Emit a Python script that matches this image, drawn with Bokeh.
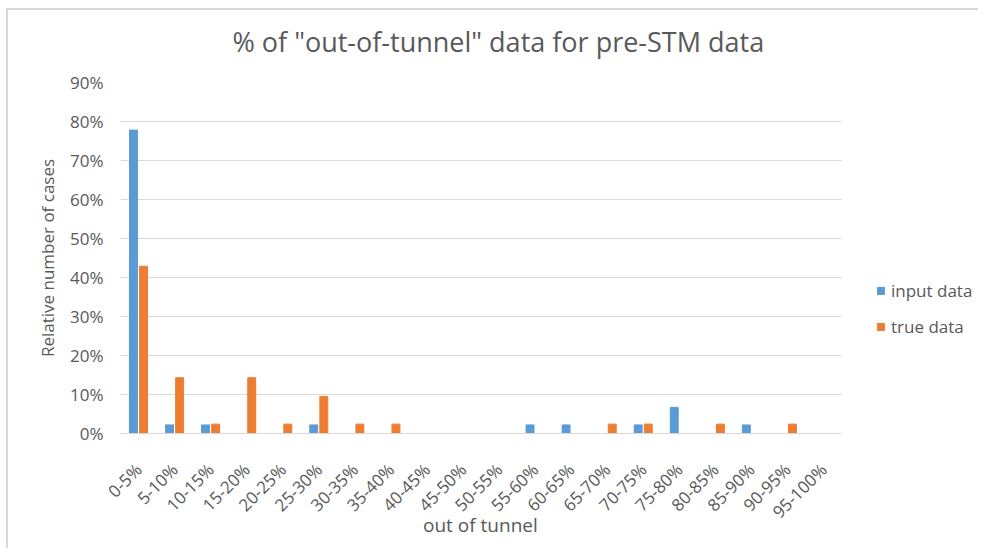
import math
from bokeh.plotting import figure
from bokeh.models import (ColumnDataSource, Range1d, FixedTicker,
                          NumeralTickFormatter, Legend, LegendItem, Title)
from bokeh.transform import dodge
from bokeh.embed import file_html
from bokeh.resources import INLINE

categories = ["0-5%", "5-10%", "10-15%", "15-20%", "20-25%", "25-30%", "30-35%",
              "35-40%", "40-45%", "45-50%", "50-55%", "55-60%", "60-65%", "65-70%",
              "70-75%", "75-80%", "80-85%", "85-90%", "90-95%", "95-100%"]
input_data = [0.778, 0.022, 0.022, 0.0, 0.0, 0.022, 0.0, 0.0, 0.0, 0.0, 0.0,
              0.022, 0.022, 0.0, 0.022, 0.067, 0.0, 0.022, 0.0, 0.0]
true_data = [0.429, 0.143, 0.024, 0.143, 0.024, 0.095, 0.024, 0.024, 0.0, 0.0, 0.0,
             0.0, 0.0, 0.024, 0.024, 0.0, 0.024, 0.0, 0.024, 0.0]
y_ticks = [0.0, 0.1, 0.2, 0.3, 0.4, 0.5, 0.6, 0.7, 0.8, 0.9]

FONT = "Open Sans"
TXT = "#595959"
GRID = "#d9d9d9"

idx = list(range(len(categories)))
src = ColumnDataSource(dict(x=idx, cat=categories, inp=input_data, tru=true_data))

n = len(categories)
# plot area spans the categories; extra room on the right holds the legend
p = figure(frame_width=858, frame_height=351, output_backend="svg", toolbar_location=None,
           x_range=Range1d(-0.5, n - 0.5 + 3.8),
           y_range=Range1d(0, 0.9),
           min_border_left=112, min_border_right=0,
           min_border_top=72, min_border_bottom=115,
           title='% of "out-of-tunnel" data for pre-STM data')
p.styles = {"border-top": "2px solid #d9d9d9", "border-left": "2px solid #d9d9d9",
            "margin-left": "6px", "margin-top": "8px"}

p.title.align = "left"
p.title.offset = 112
p.title.text_font = FONT
p.title.text_font_size = "27px"
p.title.text_font_style = "normal"
p.title.text_color = TXT
p.title.standoff = 0
# blank spacer between title and plot area
p.add_layout(Title(text=" ", text_font_size="10px", standoff=10), "above")

r1 = p.vbar(x=dodge("x", -0.14), top="inp", width=0.22,
            source=src, fill_color="#5B9BD5", line_color="#5B9BD5")
r2 = p.vbar(x=dodge("x", 0.14), top="tru", width=0.22,
            source=src, fill_color="#ED7D31", line_color="#ED7D31")

p.outline_line_color = None
p.xgrid.grid_line_color = None
p.ygrid.grid_line_color = GRID
p.ygrid.ticker = FixedTicker(ticks=y_ticks)
try:
    p.ygrid.cross_bounds = (-0.5, n - 0.5)
except Exception:
    p.ygrid.grid_line_color = None
    gsrc = ColumnDataSource(dict(y=y_ticks, x0=[-0.5] * len(y_ticks),
                                 x1=[n - 0.5] * len(y_ticks)))
    p.segment(x0="x0", x1="x1", y0="y", y1="y", source=gsrc,
              line_color=GRID, line_width=1, level="underlay")

p.yaxis.ticker = FixedTicker(ticks=y_ticks)
p.yaxis.formatter = NumeralTickFormatter(format="0%")
p.yaxis.axis_line_color = None
p.yaxis.major_tick_line_color = None
p.yaxis.minor_tick_line_color = None
p.yaxis.major_label_text_font = FONT
p.yaxis.major_label_text_font_size = "17px"
p.yaxis.major_label_text_color = TXT
p.yaxis.major_label_standoff = 11
p.yaxis.axis_label = "Relative number of cases"
p.yaxis.axis_label_text_font = FONT
p.yaxis.axis_label_text_font_size = "17px"
p.yaxis.axis_label_text_font_style = "normal"
p.yaxis.axis_label_text_color = TXT
p.yaxis.axis_label_standoff = 8

p.xaxis.ticker = FixedTicker(ticks=idx)
p.xaxis.major_label_overrides = {i: c for i, c in zip(idx, categories)}
p.xaxis.bounds = (-0.5, n - 0.5)
p.xaxis.axis_line_color = GRID
p.xaxis.major_tick_line_color = None
p.xaxis.minor_tick_line_color = None
p.xaxis.major_label_orientation = math.pi / 4
p.xaxis.major_label_text_font = FONT
p.xaxis.major_label_text_font_size = "17px"
p.xaxis.major_label_text_color = TXT
p.xaxis.major_label_standoff = 27
# trailing no-break spaces keep the label centred under the categories
p.xaxis.axis_label = "out of tunnel" + "\u00a0" * 28
p.xaxis.axis_label_text_font = FONT
p.xaxis.axis_label_text_font_size = "19px"
p.xaxis.axis_label_text_font_style = "normal"
p.xaxis.axis_label_text_color = TXT
p.xaxis.axis_label_standoff = -22

legend = Legend(items=[LegendItem(label="input data", renderers=[r1]),
                       LegendItem(label="true data", renderers=[r2])],
                location=(756, 95), orientation="vertical",
                glyph_width=9, glyph_height=9, label_standoff=6,
                label_height=20, spacing=13, padding=0, margin=0,
                border_line_color=None, background_fill_alpha=0,
                label_text_font=FONT, label_text_font_size="17px",
                label_text_color=TXT)
p.add_layout(legend, "center")

open("out.html", "w").write(file_html(p, INLINE))
